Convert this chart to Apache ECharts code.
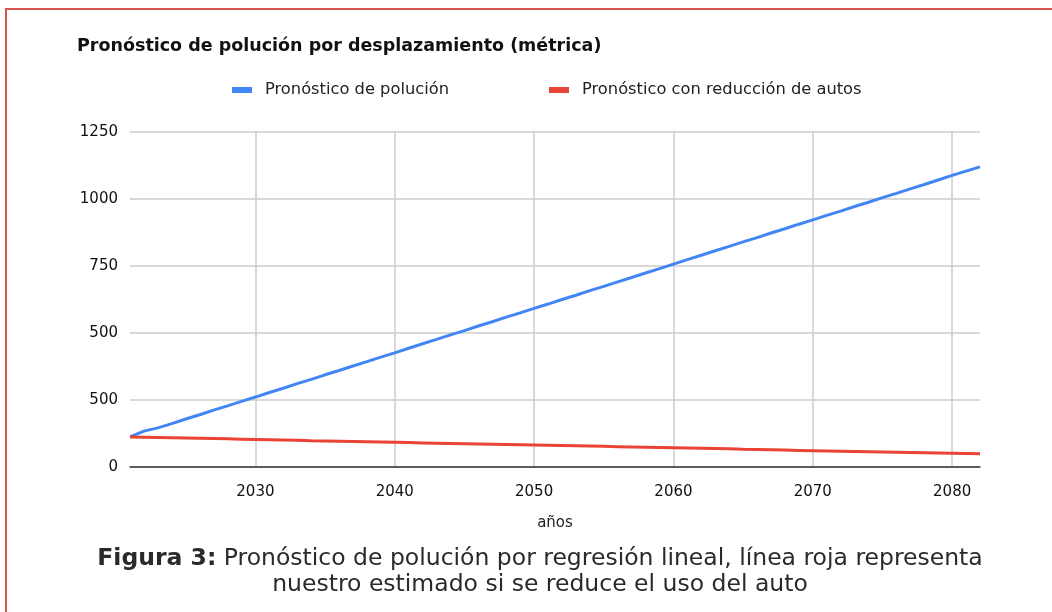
<!DOCTYPE html>
<html>
<head>
<meta charset="utf-8">
<script src="https://cdn.jsdelivr.net/npm/echarts@6/dist/echarts.min.js"></script>
<style>
html,body{margin:0;padding:0;background:#fff;}
#c{width:1052px;height:612px;}
</style>
</head>
<body>
<div id="c"></div>
<script>
const years = [2021,2022,2023,2024,2025,2026,2027,2028,2029,2030,2031,2032,2033,2034,2035,2036,2037,2038,2039,2040,2041,2042,2043,2044,2045,2046,2047,2048,2049,2050,2051,2052,2053,2054,2055,2056,2057,2058,2059,2060,2061,2062,2063,2064,2065,2066,2067,2068,2069,2070,2071,2072,2073,2074,2075,2076,2077,2078,2079,2080,2081,2082];
const pollution = [112,134,146,162,179,195,212,228,245,261,278,294,311,327,344,360,377,393,410,426,443,460,476,493,509,526,542,559,575,592,608,625,641,658,674,691,707,724,740,757,774,790,807,823,840,856,873,889,906,922,939,955,972,988,1005,1021,1038,1054,1071,1088,1104,1120];
const reduced = [112,111,110,109,108,107,106,105,104,103,102,101,100,98,97,96,95,94,93,92,91,90,89,88,87,86,85,84,83,82,81,80,79,78,77,76,75,74,73,72,71,70,69,68,66,65,64,63,62,61,60,59,58,57,56,55,54,53,52,51,50,49];
const xTicks = [2030,2040,2050,2060,2070,2080];
const yTickLabels = ["0","500","500","750","1000","1250"];
const seriesNames = ["Pronóstico de polución","Pronóstico con reducción de autos"];

const FONT = "'DejaVu Sans', sans-serif";
const chart = echarts.init(document.getElementById('c'));
chart.setOption({
  backgroundColor: '#ffffff',
  animation: false,
  textStyle: {fontFamily: FONT},
  title: [{
    text: 'Pronóstico de polución por desplazamiento (métrica)',
    left: 72, top: 32,
    textStyle: {fontSize: 17.5, fontWeight: 'bold', color: '#111', fontFamily: FONT}
  }],
  legend: {
    left: 227, top: 77,
    icon: 'rect', itemWidth: 20, itemHeight: 6, itemGap: 100,
    textStyle: {fontSize: 16.3, color: '#222', fontFamily: FONT, padding: [0, 0, 0, 8]},
    data: seriesNames
  },
  grid: {left: 130, right: 72, top: 132, bottom: 145, containLabel: false},
  xAxis: {
    type: 'value', min: 2021, max: 2082,
    name: 'años', nameLocation: 'middle', nameGap: 49,
    nameTextStyle: {fontSize: 15, color: '#222', fontFamily: FONT},
    axisLine: {show: true, lineStyle: {color: '#333', width: 1.5}},
    axisTick: {show: false, customValues: xTicks},
    axisLabel: {customValues: xTicks, fontSize: 15, color: '#111', margin: 18, fontFamily: FONT,
      formatter: (v) => String(v)},
    splitLine: {show: true, lineStyle: {color: '#cccccc', width: 1.5}}
  },
  yAxis: {
    type: 'value', min: 0, max: 1250, interval: 250,
    axisLine: {show: false}, axisTick: {show: false},
    axisLabel: {fontSize: 15, color: '#111', margin: 12, fontFamily: FONT,
      formatter: (v) => yTickLabels[Math.round(v/250)]},
    splitLine: {lineStyle: {color: '#cccccc', width: 1.5}}
  },
  series: [
    {name: seriesNames[0], type: 'line', showSymbol: false, data: years.map((y,i)=>[y,pollution[i]]),
      lineStyle: {color: '#4285f4', width: 3}, itemStyle: {color: '#4285f4'}},
    {name: seriesNames[1], type: 'line', showSymbol: false, data: years.map((y,i)=>[y,reduced[i]]),
      lineStyle: {color: '#ea4335', width: 3}, itemStyle: {color: '#ea4335'}}
  ],
  graphic: [
    {type: 'rect', shape: {x: 6, y: 9, width: 1200, height: 800}, style: {fill: 'none', stroke: '#d9534f', lineWidth: 2}, silent: true},
    {type: 'text', x: 540, y: 546,
      style: {
        text: '{b|Figura 3:} Pronóstico de polución por regresión lineal, línea roja representa\nnuestro estimado si se reduce el uso del auto',
        align: 'center', verticalAlign: 'top', lineHeight: 26, fontSize: 23.5, fill: '#2a2a2a', fontFamily: FONT,
        rich: {b: {fontWeight: 'bold', fontSize: 23.5, fill: '#2a2a2a', fontFamily: FONT, lineHeight: 26}}
      }}
  ]
});
</script>
</body>
</html>
